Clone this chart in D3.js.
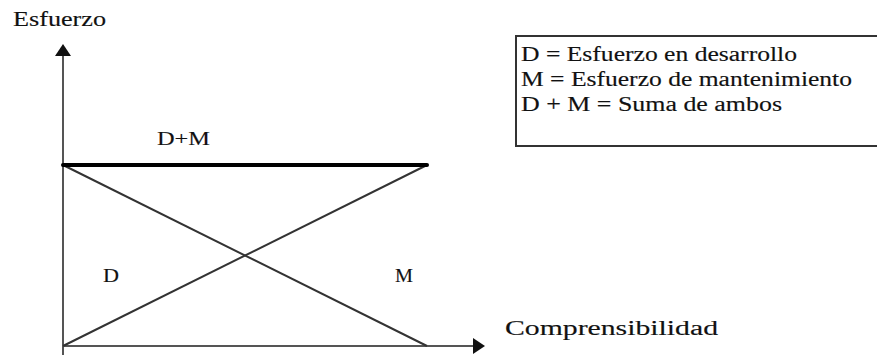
<!DOCTYPE html>
<html>
<head>
<meta charset="utf-8">
<script src="https://cdn.jsdelivr.net/npm/d3@7"></script>
<style>
  body { margin: 0; background: #fff; }
  svg text { font-family: "Liberation Serif", "Times New Roman", serif; fill: #111; stroke: #111; stroke-width: 0.15; }
</style>
</head>
<body>
<svg id="chart" width="877" height="360"></svg>
<script>
// values (relative effort)
const xPoints = [0, 1];
const desarrollo = [0, 1];      // D
const mantenimiento = [1, 0];   // M
const suma = [1, 1];            // D + M
const legendLines = [
  "D = Esfuerzo en desarrollo",
  "M = Esfuerzo de mantenimiento",
  "D + M = Suma de ambos"
];

const svg = d3.select("#chart");

const x = d3.scaleLinear().domain([0, 1]).range([63, 427]);
const y = d3.scaleLinear().domain([0, 1]).range([346, 165]);

const line = d3.line()
  .x(d => x(d[0]))
  .y(d => y(d[1]));

// axes with arrows
svg.append("line")
  .attr("x1", x(0)).attr("x2", x(0))
  .attr("y1", 355).attr("y2", 54)
  .attr("stroke", "#555").attr("stroke-width", 2);
svg.append("path")
  .attr("d", `M${x(0)},44 L${x(0) + 8},56 L${x(0) - 8},56 Z`)
  .attr("fill", "#111");

svg.append("line")
  .attr("x1", x(0)).attr("x2", 474)
  .attr("y1", y(0)).attr("y2", y(0))
  .attr("stroke", "#555").attr("stroke-width", 2);
svg.append("path")
  .attr("d", `M485,${y(0)} L473,${y(0) - 8} L473,${y(0) + 8} Z`)
  .attr("fill", "#111");

// series
svg.append("path")
  .datum(xPoints.map((v, i) => [v, desarrollo[i]]))
  .attr("d", line)
  .attr("fill", "none").attr("stroke", "#333").attr("stroke-width", 2);

svg.append("path")
  .datum(xPoints.map((v, i) => [v, mantenimiento[i]]))
  .attr("d", line)
  .attr("fill", "none").attr("stroke", "#333").attr("stroke-width", 2);

svg.append("path")
  .datum(xPoints.map((v, i) => [v, suma[i]]))
  .attr("d", line)
  .attr("fill", "none").attr("stroke", "#000").attr("stroke-width", 4)
  .attr("stroke-linecap", "round");

// labels
function label(txt, px, py, size, len) {
  const t = svg.append("text")
    .attr("x", px).attr("y", py)
    .attr("font-size", size)
    .text(txt);
  if (len) t.attr("textLength", len).attr("lengthAdjust", "spacingAndGlyphs");
  return t;
}

label("Esfuerzo", 13, 26, 20, 93);
label("Comprensibilidad", 505, 335, 20, 213);
label("D+M", 157, 145, 19, 53);
label("D", 103, 282, 19, 16);
label("M", 395, 282, 19, 18);

// legend box
svg.append("rect")
  .attr("x", 516).attr("y", 36)
  .attr("width", 380).attr("height", 110)
  .attr("fill", "none").attr("stroke", "#333").attr("stroke-width", 2);

const legendLens = [276, 331, 261];
svg.selectAll(".leg")
  .data(legendLines)
  .join("text")
  .attr("class", "leg")
  .attr("x", 521)
  .attr("y", (d, i) => 61 + i * 25)
  .attr("font-size", 20)
  .attr("textLength", (d, i) => legendLens[i])
  .attr("lengthAdjust", "spacingAndGlyphs")
  .text(d => d);
</script>
</body>
</html>
